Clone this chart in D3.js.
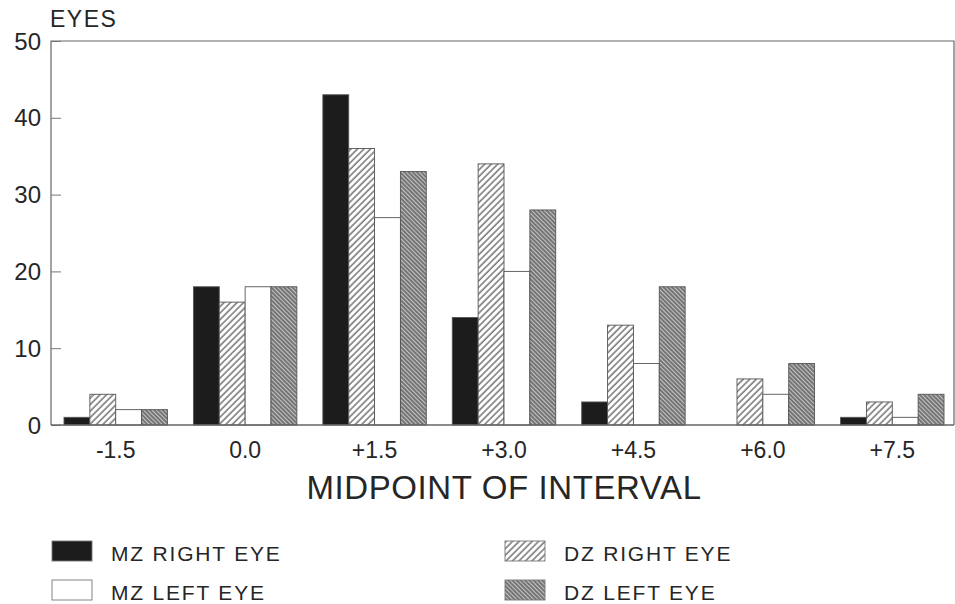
<!DOCTYPE html>
<html>
<head>
<meta charset="utf-8">
<script src="https://cdn.jsdelivr.net/npm/d3@7"></script>
<style>
  body { margin: 0; background: #fff; }
  text { font-family: "Liberation Sans", Arial, sans-serif; fill: #262626; }
</style>
</head>
<body>
<div id="chart"></div>
<script>
// data
const intervals = ["-1.5", "0.0", "+1.5", "+3.0", "+4.5", "+6.0", "+7.5"];
const seriesKeys = ["mzRight", "dzRight", "mzLeft", "dzLeft"];
const mzRight = [1, 18, 43, 14, 3, 0, 1];
const dzRight = [4, 16, 36, 34, 13, 6, 3];
const mzLeft = [2, 18, 27, 20, 8, 4, 1];
const dzLeft = [2, 18, 33, 28, 18, 8, 4];
const yTicks = [0, 10, 20, 30, 40, 50];
const legendLabels = {
  mzRight: "MZ RIGHT EYE",
  mzLeft: "MZ LEFT EYE",
  dzRight: "DZ RIGHT EYE",
  dzLeft: "DZ LEFT EYE",
};

const values = { mzRight, dzRight, mzLeft, dzLeft };

const width = 955, height = 604;
const svg = d3.select("#chart").append("svg")
  .attr("width", width)
  .attr("height", height);

// hatch patterns
const defs = svg.append("defs");
const p1 = defs.append("pattern")
  .attr("id", "hatchLight")
  .attr("patternUnits", "userSpaceOnUse")
  .attr("width", 4.6).attr("height", 4.6)
  .attr("patternTransform", "rotate(-45)");
p1.append("rect").attr("width", 4.6).attr("height", 4.6).attr("fill", "#fff");
p1.append("line").attr("x1", 0).attr("y1", 1).attr("x2", 4.6).attr("y2", 1)
  .attr("stroke", "#6a6a6a").attr("stroke-width", 1.4);

const p2 = defs.append("pattern")
  .attr("id", "hatchDark")
  .attr("patternUnits", "userSpaceOnUse")
  .attr("width", 3).attr("height", 3)
  .attr("patternTransform", "rotate(45)");
p2.append("rect").attr("width", 3).attr("height", 3).attr("fill", "#c4c4c4");
p2.append("line").attr("x1", 0).attr("y1", 1).attr("x2", 3).attr("y2", 1)
  .attr("stroke", "#4a4a4a").attr("stroke-width", 1.3);

const fills = {
  mzRight: "#1c1c1c",
  mzLeft: "#fff",
  dzRight: "url(#hatchLight)",
  dzLeft: "url(#hatchDark)",
};

const plot = { left: 51, right: 954, top: 41, bottom: 425 };

const x0 = d3.scaleBand().domain(intervals).range([51, 957]).padding(0);
const x1 = d3.scaleBand().domain(seriesKeys).range([13, x0.bandwidth() - 13]).padding(0);
const y = d3.scaleLinear().domain([0, 50]).range([plot.bottom, plot.top]);

// frame
svg.append("path")
  .attr("d", `M${plot.left},${plot.bottom}V${plot.top}H${plot.right}V${plot.bottom}`)
  .attr("fill", "none")
  .attr("stroke", "#666")
  .attr("stroke-width", 1.2);

// bars
const groups = svg.append("g").selectAll("g")
  .data(intervals)
  .join("g")
  .attr("transform", d => `translate(${x0(d)},0)`);

groups.selectAll("rect")
  .data((d, i) => seriesKeys.map(k => ({ key: k, value: values[k][i] })))
  .join("rect")
  .filter(d => d.value > 0)
  .attr("x", d => x1(d.key))
  .attr("y", d => y(d.value))
  .attr("width", x1.bandwidth())
  .attr("height", d => y(0) - y(d.value))
  .attr("fill", d => fills[d.key])
  .attr("stroke", "#555")
  .attr("stroke-width", 0.9);

// y axis, ticks inward
const yAxis = svg.append("g")
  .attr("transform", `translate(${plot.left},0)`)
  .call(d3.axisRight(y).tickValues(yTicks).tickSize(10).tickFormat(""));
yAxis.select(".domain").remove();
yAxis.selectAll("line").attr("stroke", "#777");

svg.append("g").selectAll("text")
  .data(yTicks)
  .join("text")
  .attr("x", 41)
  .attr("y", d => y(d) + 8.5)
  .attr("text-anchor", "end")
  .attr("font-size", 24)
  .text(d => d);

// x axis line + labels
const xAxis = svg.append("g")
  .attr("transform", `translate(0,${plot.bottom})`)
  .call(d3.axisBottom(x0).tickSize(0).tickPadding(17));
xAxis.select(".domain")
  .attr("d", `M${plot.left},0H${plot.right}`)
  .attr("stroke", "#666")
  .attr("stroke-width", 1.4);
xAxis.selectAll("text")
  .attr("font-size", 23)
  .attr("font-family", "Liberation Sans, Arial, sans-serif")
  .attr("fill", "#262626");

// titles
svg.append("text")
  .attr("x", 50)
  .attr("y", 27)
  .attr("font-size", 23)
  .attr("letter-spacing", 1.5)
  .text("EYES");

svg.append("text")
  .attr("x", 504)
  .attr("y", 499)
  .attr("text-anchor", "middle")
  .attr("font-size", 33)
  .attr("letter-spacing", 0.6)
  .text("MIDPOINT OF INTERVAL");

// legend
const legendPos = [
  { key: "mzRight", x: 52, y: 541 },
  { key: "mzLeft", x: 52, y: 580 },
  { key: "dzRight", x: 505, y: 541 },
  { key: "dzLeft", x: 505, y: 580 },
];
const legend = svg.append("g").selectAll("g")
  .data(legendPos)
  .join("g")
  .attr("transform", d => `translate(${d.x},${d.y})`);
legend.append("rect")
  .attr("width", 40)
  .attr("height", 20)
  .attr("fill", d => fills[d.key])
  .attr("stroke", "#777")
  .attr("stroke-width", 0.9);
legend.append("text")
  .attr("x", 59)
  .attr("y", 20)
  .attr("font-size", 21)
  .attr("letter-spacing", 1.8)
  .text(d => legendLabels[d.key]);
</script>
</body>
</html>
